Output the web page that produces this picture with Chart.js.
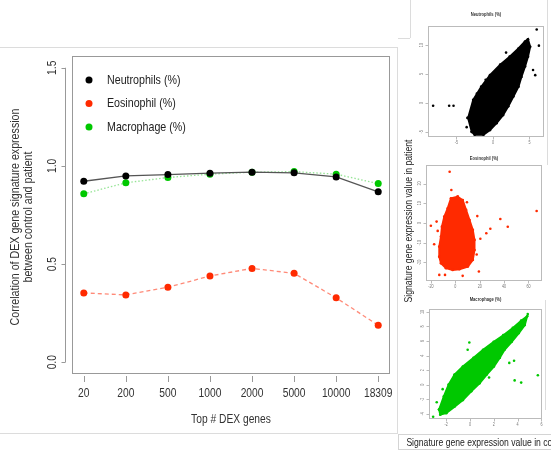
<!DOCTYPE html>
<html>
<head>
<meta charset="utf-8">
<script src="https://cdn.jsdelivr.net/npm/chart.js@4.4.0/dist/chart.umd.min.js"></script>
<style>
  body { margin: 0; background: #fff; width: 551px; height: 455px; overflow: hidden; position: relative;
         font-family: "Liberation Sans", Arial, sans-serif; }
  canvas { position: absolute; }
  .edge { position: absolute; border: 0 solid #dcdcdc; }
  .vtext { position: absolute; width: 200px; text-align: center; font-size: 10.5px; color: #222;
           white-space: nowrap; transform: rotate(-90deg) scaleX(0.82); }
  .btext { position: absolute; left: 398px; top: 434px; width: 170px; height: 14px; border: 1px solid #d4d4d4;
           border-right: 0; font-size: 10.5px; line-height: 14px; color: #222; white-space: nowrap; overflow: hidden; }
  .btext span { display: inline-block; transform: scaleX(0.82); transform-origin: 0 50%; padding-left: 9px; }
</style>
</head>
<body>
<div class="edge" style="left:-1px;top:47px;width:398px;height:385px;border-top-width:1px;border-bottom-width:1px;border-right-width:1px;"></div>
<div class="edge" style="left:410px;top:0;width:0;height:38px;border-left-width:1px;"></div>
<div class="edge" style="left:398px;top:38px;width:12px;height:0;border-top-width:1px;"></div>
<div class="edge" style="left:547px;top:0;width:0;height:165px;border-left-width:1px;"></div>
<div class="edge" style="left:545px;top:300px;width:0;height:110px;border-left-width:1px;"></div>

<canvas id="main" width="396" height="440" style="left:0;top:0;"></canvas>
<canvas id="neu" width="139" height="150" style="left:412px;top:0;"></canvas>
<canvas id="eos" width="139" height="142" style="left:412px;top:148px;"></canvas>
<canvas id="mac" width="139" height="142" style="left:412px;top:290px;"></canvas>

<div class="vtext" style="left:308px;top:215px;">Signature gene expression value in patient</div>
<div class="btext"><span>Signature gene expression value in control</span></div>

<script>
// main chart: correlation by number of top DEX genes
const categories = ['20', '200', '500', '1000', '2000', '5000', '10000', '18309'];
const neutrophils = [0.922, 0.949, 0.956, 0.963, 0.968, 0.965, 0.944, 0.868];
const eosinophil = [0.353, 0.343, 0.382, 0.439, 0.478, 0.453, 0.328, 0.188];
const macrophage = [0.858, 0.914, 0.941, 0.958, 0.968, 0.971, 0.958, 0.910];
const yTicks = [0, 0.5, 1.0, 1.5];

// side scatter panels: outline of the dense cloud + the stray points
const neuBlob = [[-2.9, -5.0], [-3.4, -2.6], [-2.7, 0.5], [-1.6, 2.8], [-0.4, 4.8], [1.0, 6.6], [2.3, 8.0],
  [3.5, 9.4], [4.4, 10.6], [4.8, 11.0], [5.1, 9.7], [4.8, 8.0], [4.4, 6.3], [3.9, 4.5], [3.5, 2.8],
  [2.8, 1.1], [2.1, -0.6], [1.4, -2.1], [0.5, -3.5], [-0.4, -4.7], [-1.3, -5.5], [-2.5, -5.5], [-2.9, -5.0]];
const neuOut = [[6.0, 12.7], [6.3, 9.9], [5.5, 5.7], [5.8, 4.8], [-8.2, -0.5], [-6.0, -0.5], [-5.4, -0.5],
  [1.8, 8.7], [-3.5, -2.6], [-2.2, 1.6], [-0.4, 2.4], [-3.6, -4.2], [3.0, 2.0], [-1.0, 4.0], [2.6, 6.5]];
const neuXTicks = [-5, 0, 5];
const neuYTicks = [-5, 0, 5, 10];

const eosBlob = [[1.9, 13.3], [-3.6, 12.5], [-6.3, 7.4], [-9.1, 3.2], [-11.0, -1.9], [-11.8, -6.9], [-13.2, -12.0],
  [-13.2, -17.1], [-11.8, -20.4], [-7.7, -22.9], [-2.2, -23.8], [3.3, -23.4], [10.2, -22.1], [14.3, -18.7],
  [15.7, -13.7], [15.7, -8.6], [14.3, -3.5], [11.6, 1.5], [8.8, 6.6], [6.0, 11.6], [1.9, 13.3]];
const eosOut = [[-4.7, 26.0], [-3.3, 16.7], [66.7, 6.1], [36.9, 2.0], [43.0, -1.9], [28.7, -2.9], [25.4, -5.2],
  [-20.1, -1.4], [-17.4, -10.8], [-13.2, -26.3], [-8.5, -26.3], [6.0, -26.8], [19.3, -24.6], [-15.4, 0.7],
  [20.5, -8.0], [18.0, 3.5], [-14.5, -4.0], [17.5, -16.0], [9.5, 10.5]];
const eosXTicks = [-20, 0, 20, 40, 60];
const eosYTicks = [-20, -10, 0, 10, 20];

const macBlob = [[-2.6, -3.4], [-2.2, -1.6], [-1.8, 0.0], [-1.3, 1.4], [-0.6, 2.5], [0.3, 3.7], [1.1, 4.8],
  [2.0, 5.9], [2.8, 6.8], [3.6, 7.8], [4.3, 8.8], [4.8, 9.4], [4.6, 8.2], [4.1, 7.1], [3.5, 5.9], [2.9, 4.8],
  [2.5, 3.7], [2.0, 2.5], [1.4, 1.4], [0.8, 0.2], [0.1, -0.9], [-0.6, -2.1], [-1.3, -3.0], [-2.0, -3.9],
  [-2.5, -4.1], [-2.6, -3.4]];
const macOut = [[4.85, 9.7], [-0.06, 5.8], [3.7, 3.3], [5.7, 1.3], [3.75, 0.6], [4.3, 0.3], [-3.1, -4.4],
  [-2.3, -0.6], [-0.2, 4.8], [3.3, 3.0], [-2.8, -2.4], [1.6, 1.0]];
const macXTicks = [-2, 0, 2, 4, 6];
const macYTicks = [-4, -2, 0, 2, 4, 6, 8, 10];

const FONT = '"Liberation Sans", Arial, sans-serif';
const SQUEEZE = 0.82;  // the source picture is horizontally squashed

function squeezedText(ctx, s, x, y, angle) {
    ctx.save();
    ctx.translate(x, y);
    if (angle) ctx.rotate(angle);
    ctx.scale(SQUEEZE, 1);
    ctx.fillText(s, 0, 0);
    ctx.restore();
}

const mainAxes = {
    id: 'mainAxes',
    afterDraw(chart) {
        const { ctx, chartArea: a, scales: { x, y } } = chart;
        ctx.save();
        ctx.strokeStyle = '#999';
        ctx.lineWidth = 1;
        ctx.strokeRect(a.left + 0.5, a.top + 0.5, a.width - 1, a.height - 1);

        // y axis sits a little left of the box
        const ax = a.left - 6.5;
        ctx.beginPath();
        ctx.moveTo(ax, y.getPixelForValue(yTicks[0]));
        ctx.lineTo(ax, y.getPixelForValue(yTicks[yTicks.length - 1]));
        yTicks.forEach(v => {
            const py = Math.round(y.getPixelForValue(v)) + 0.5;
            ctx.moveTo(ax, py);
            ctx.lineTo(ax - 4, py);
        });
        ctx.stroke();

        ctx.fillStyle = '#333';
        ctx.font = '12.5px ' + FONT;
        ctx.textAlign = 'center';
        ctx.textBaseline = 'middle';
        yTicks.forEach(v => squeezedText(ctx, v.toFixed(1), a.left - 19, y.getPixelForValue(v), -Math.PI / 2));

        // x axis ticks and labels
        ctx.beginPath();
        categories.forEach((c, i) => {
            const px = Math.round(x.getPixelForValue(i)) + 0.5;
            ctx.moveTo(px, a.bottom + 2);
            ctx.lineTo(px, a.bottom + 8);
        });
        ctx.stroke();
        categories.forEach((c, i) => squeezedText(ctx, c, x.getPixelForValue(i), a.bottom + 20));

        // titles
        squeezedText(ctx, 'Top # DEX genes', (a.left + a.right) / 2, a.bottom + 46);
        ctx.font = '13px ' + FONT;
        const cy = (a.top + a.bottom) / 2 + 2;
        squeezedText(ctx, 'Correlation of DEX gene signature expression', 15, cy, -Math.PI / 2);
        squeezedText(ctx, 'between control and patient', 28, cy, -Math.PI / 2);

        // legend in the top-left corner of the plot
        ctx.textAlign = 'left';
        chart.data.datasets.slice().sort((p, q) => p.legendOrder - q.legendOrder).forEach((ds, i) => {
            const ly = 80 + i * 23.5;
            ctx.fillStyle = ds.pointBackgroundColor;
            ctx.beginPath();
            ctx.arc(89, ly, 3.5, 0, Math.PI * 2);
            ctx.fill();
            ctx.fillStyle = '#222';
            squeezedText(ctx, ds.label, 107, ly);
        });
        ctx.restore();
    }
};

function series(label, values, line, point, dash, width, order) {
    return {
        label: label,
        legendOrder: order,
        data: values.map((v, i) => ({ x: i, y: v })),
        showLine: true,
        borderColor: line,
        borderWidth: width,
        borderDash: dash,
        pointBackgroundColor: point,
        pointBorderColor: point,
        pointBorderWidth: 0,
        pointRadius: 3.5,
        tension: 0
    };
}

new Chart(document.getElementById('main'), {
    type: 'scatter',
    data: {
        datasets: [
            series('Eosinophil (%)', eosinophil, 'rgba(255, 60, 30, 0.6)', '#ff2a00', [4, 3], 1.3, 1),
            series('Neutrophils (%)', neutrophils, '#555', '#000', [], 1.3, 0),
            series('Macrophage (%)', macrophage, 'rgba(80, 210, 80, 0.6)', '#00c800', [1.5, 2], 1.3, 2)
        ]
    },
    options: {
        animation: false,
        responsive: false,
        layout: { padding: { left: 72, top: 56, right: 6, bottom: 66 } },
        scales: {
            x: { type: 'linear', min: -0.28, max: 7.28, display: false },
            y: { type: 'linear', min: -0.06, max: 1.56, display: false }
        },
        plugins: { legend: { display: false }, tooltip: { enabled: false } }
    },
    plugins: [mainAxes]
});

function miniAxes(xTicks, yTicks, title, titleGap) {
    return {
        id: 'miniAxes',
        afterDraw(chart) {
            const { ctx, chartArea: a, scales: { x, y } } = chart;
            ctx.save();
            ctx.strokeStyle = '#bbb';
            ctx.lineWidth = 1;
            ctx.strokeRect(a.left + 0.5, a.top + 0.5, a.width - 1, a.height - 1);
            ctx.beginPath();
            xTicks.forEach(v => {
                const px = Math.round(x.getPixelForValue(v)) + 0.5;
                ctx.moveTo(px, a.bottom);
                ctx.lineTo(px, a.bottom + 2.5);
            });
            yTicks.forEach(v => {
                const py = Math.round(y.getPixelForValue(v)) + 0.5;
                ctx.moveTo(a.left, py);
                ctx.lineTo(a.left - 2.5, py);
            });
            ctx.stroke();
            ctx.fillStyle = '#777';
            ctx.font = '4.5px ' + FONT;
            ctx.textAlign = 'center';
            ctx.textBaseline = 'middle';
            xTicks.forEach(v => squeezedText(ctx, String(v), x.getPixelForValue(v), a.bottom + 6));
            yTicks.forEach(v => squeezedText(ctx, String(v), a.left - 6, y.getPixelForValue(v), -Math.PI / 2));
            ctx.fillStyle = '#333';
            ctx.font = 'bold 5px ' + FONT;
            squeezedText(ctx, title, (a.left + a.right) / 2, a.top - titleGap);
            ctx.restore();
        }
    };
}

function miniPlot(id, blob, stray, color, xr, yr, xTicks, yTicks, title, titleGap, pad) {
    const pts = arr => arr.map(([px, py]) => ({ x: px, y: py }));
    new Chart(document.getElementById(id), {
        type: 'scatter',
        data: {
            datasets: [
                {
                    data: pts(blob),
                    showLine: true,
                    fill: 'shape',
                    backgroundColor: color,
                    borderColor: color,
                    borderWidth: 2,
                    pointBackgroundColor: color,
                    pointBorderWidth: 0,
                    pointRadius: 1.4,
                    tension: 0
                },
                {
                    data: pts(stray),
                    backgroundColor: color,
                    pointBorderWidth: 0,
                    pointRadius: 1.3
                }
            ]
        },
        options: {
            animation: false,
            responsive: false,
            layout: { padding: pad },
            scales: {
                x: { type: 'linear', min: xr[0], max: xr[1], display: false },
                y: { type: 'linear', min: yr[0], max: yr[1], display: false }
            },
            plugins: { legend: { display: false }, tooltip: { enabled: false } }
        },
        plugins: [miniAxes(xTicks, yTicks, title, titleGap)]
    });
}

miniPlot('neu', neuBlob, neuOut, '#000', [-8.9, 7.0], [-5.9, 13.3], neuXTicks, neuYTicks,
    'Neutrophils (%)', 11, { left: 16, top: 26, right: 7, bottom: 13 });
miniPlot('eos', eosBlob, eosOut, '#ff2a00', [-24.1, 71.1], [-29.4, 29.4], eosXTicks, eosYTicks,
    'Eosinophil (%)', 6, { left: 14, top: 17, right: 9, bottom: 9 });
miniPlot('mac', macBlob, macOut, '#00c800', [-3.45, 6.05], [-4.7, 10.4], macXTicks, macYTicks,
    'Macrophage (%)', 9, { left: 17, top: 19, right: 9, bottom: 13 });
</script>
</body>
</html>
